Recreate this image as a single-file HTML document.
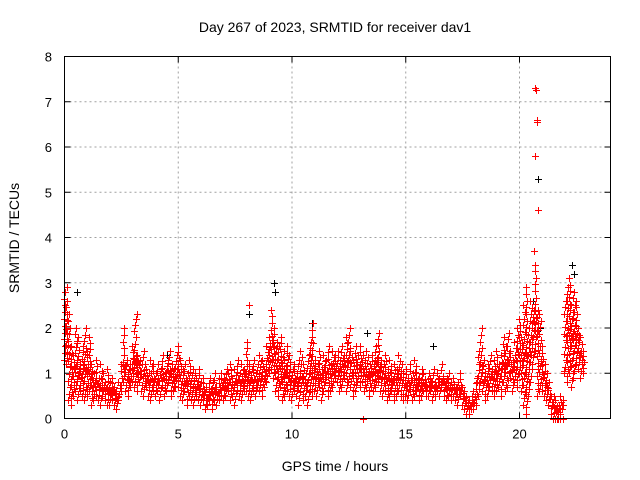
<!DOCTYPE html>
<html><head><meta charset="utf-8"><style>
body{margin:0;background:#fff}
svg{display:block;font-family:"Liberation Sans",sans-serif}
</style></head><body>
<svg id="chart" width="640" height="480" viewBox="0 0 640 480">
<text x="335" y="32" font-size="14" text-anchor="middle">Day 267 of 2023, SRMTID for receiver dav1</text>
<text transform="translate(19,238) rotate(-90)" font-size="14" text-anchor="middle">SRMTID / TECUs</text>
<text x="335" y="471" font-size="14" text-anchor="middle">GPS time / hours</text>
<g id="grid"></g>
<g id="ticks"></g>
<g id="black"></g>
<g id="red"></g>
<rect x="64.5" y="56.5" width="546" height="362" fill="none" stroke="#000" stroke-width="1"/>
</svg>
<script>
const xTicks=[0,5,10,15,20];
const yTicks=[0,1,2,3,4,5,6,7,8];
const step=0.1;
const hiVals=[2.8,2.6,2.3,1.6,1.4,2.0,1.8,1.2,1.6,2.0,
1.5,1.8,1.2,1.0,1.3,0.9,1.2,1.0,0.8,1.1,
0.8,0.9,0.7,0.6,0.8,1.2,2.0,1.3,1.1,1.2,
1.6,2.2,1.4,1.3,1.2,1.5,1.1,1.0,1.3,1.2,
1.0,1.2,1.1,1.4,1.0,1.3,1.5,1.2,1.1,1.4,
1.6,1.3,1.1,1.2,1.0,1.3,1.1,1.0,0.9,1.1,
0.8,0.9,0.7,0.6,0.9,0.8,1.0,0.7,0.9,1.0,
0.9,1.1,1.0,1.2,0.9,1.1,1.3,1.0,1.2,1.1,
1.7,1.2,1.1,1.3,1.0,1.2,1.4,1.3,1.1,1.6,
1.8,2.4,2.0,1.7,1.6,1.8,1.5,1.3,1.6,1.4,
1.1,1.2,1.0,1.3,1.5,1.2,1.0,1.4,1.7,2.1,
1.3,1.2,1.5,1.1,1.4,1.3,1.6,1.2,1.5,1.4,
1.5,1.3,1.6,1.4,1.8,2.0,1.5,1.3,1.6,1.4,
1.6,1.4,1.3,1.5,1.2,1.4,1.3,1.6,1.9,1.3,
1.2,1.4,1.1,1.3,1.0,1.2,1.1,1.4,1.2,1.0,
1.1,0.9,1.2,1.0,1.3,1.0,0.9,1.1,1.0,0.8,
1.0,0.9,1.1,0.8,1.0,0.9,1.2,0.8,0.9,1.0,
0.8,0.9,0.7,0.8,1.0,0.7,0.6,0.5,0.4,0.5,
0.6,0.9,1.5,2.0,1.3,1.0,1.2,1.4,1.1,1.3,
1.5,1.2,1.4,1.8,1.6,1.9,1.5,1.3,1.7,2.0,
2.2,1.8,2.5,2.9,2.0,2.6,2.4,3.4,2.4,2.3,
1.6,1.2,1.0,0.8,0.5,0.5,0.4,0.3,0.5,0.4,
2.6,2.9,3.1,2.5,2.8,2.6,2.0,1.8,1.5];
const loVals=[1.3,1.2,0.4,0.3,0.5,0.6,0.4,0.6,0.5,0.4,
0.5,0.6,0.3,0.4,0.5,0.4,0.3,0.5,0.4,0.3,
0.3,0.4,0.3,0.2,0.4,0.6,0.8,0.6,0.5,0.7,
0.8,0.7,0.6,0.8,0.6,0.5,0.7,0.5,0.4,0.6,
0.5,0.6,0.4,0.7,0.5,0.6,0.8,0.5,0.6,0.7,
0.7,0.5,0.4,0.6,0.3,0.5,0.4,0.3,0.5,0.4,
0.3,0.4,0.2,0.3,0.4,0.2,0.4,0.3,0.4,0.5,
0.4,0.5,0.6,0.4,0.5,0.3,0.6,0.5,0.4,0.6,
0.6,0.5,0.4,0.6,0.5,0.7,0.6,0.5,0.7,0.8,
1.0,1.1,0.9,0.6,0.5,0.7,0.4,0.5,0.6,0.5,
0.4,0.6,0.5,0.3,0.6,0.4,0.5,0.3,0.6,0.5,
0.6,0.5,0.7,0.4,0.6,0.8,0.5,0.6,0.7,0.9,
0.8,0.6,0.7,0.9,0.6,0.8,0.7,0.5,0.6,0.8,
0.7,0.8,0.6,0.7,0.5,0.7,0.6,0.7,0.8,0.6,
0.5,0.6,0.4,0.5,0.6,0.4,0.5,0.6,0.5,0.4,
0.5,0.4,0.6,0.4,0.5,0.6,0.4,0.5,0.6,0.5,
0.5,0.6,0.4,0.5,0.6,0.5,0.7,0.5,0.4,0.5,
0.4,0.5,0.4,0.3,0.5,0.3,0.2,0.1,0.1,0.2,
0.2,0.3,0.5,0.8,0.6,0.4,0.5,0.7,0.6,0.5,
0.6,0.7,0.5,0.8,0.6,0.7,0.9,0.6,0.8,0.7,
1.0,0.6,0.3,0.1,0.5,0.8,1.2,1.5,0.5,0.6,
0.6,0.5,0.4,0.3,0.1,0.0,0.0,0.0,0.1,0.2,
1.0,0.8,1.0,0.7,0.9,1.2,1.1,0.9,1.0];
const extraT=[20.7,20.72,20.75,20.78,20.7,20.8,20.65,13.1,21.7,21.8,21.9,0.1,3.2,8.1];
const extraV=[7.3,7.25,6.6,6.55,5.8,4.6,3.7,0.0,0.0,0.0,0.0,2.9,2.3,2.5];
const blackT=[0.1,0.55,9.2,9.25,20.8,20.6,22.3,22.4,8.1,13.3,4.5,16.2,10.9,20.9,2.6];
const blackV=[2.9,2.8,3.0,2.8,5.3,2.6,3.4,3.2,2.3,1.9,1.4,1.6,2.1,2.0,1.1];

const X0=64.5,X1=610.5,Y0=418.5,Y1=56.5;
const sx=t=>X0+t/24*(X1-X0);
const sy=v=>Y0-v/8*(Y0-Y1);
const NS='http://www.w3.org/2000/svg';
function mk(tag,attrs,parent){const e=document.createElementNS(NS,tag);for(const k in attrs)e.setAttribute(k,attrs[k]);parent.appendChild(e);return e;}
const grid=document.getElementById('grid'),ticks=document.getElementById('ticks');
xTicks.forEach(t=>{const x=sx(t);
 if(t>0){const l=mk('line',{x1:x,y1:Y0,x2:x,y2:Y1,stroke:'#a0a0a0','stroke-dasharray':'2,3'},grid);}
 mk('line',{x1:x,y1:Y0,x2:x,y2:Y0-6,stroke:'#000'},ticks);mk('line',{x1:x,y1:Y1,x2:x,y2:Y1+6,stroke:'#000'},ticks);
 const tx=mk('text',{x:x,y:Y0+20,'font-size':13,'text-anchor':'middle'},ticks);tx.textContent=t;
 });
yTicks.forEach(v=>{const y=sy(v);
 if(v>0&&v<8){const l=mk('line',{x1:X0,y1:y,x2:X1,y2:y,stroke:'#a0a0a0','stroke-dasharray':'2,3'},grid);}
 mk('line',{x1:X0,y1:y,x2:X0+6,y2:y,stroke:'#000'},ticks);mk('line',{x1:X1,y1:y,x2:X1-6,y2:y,stroke:'#000'},ticks);
 const tx=mk('text',{x:52,y:y+5,'font-size':13,'text-anchor':'end'},ticks);tx.textContent=v;
 });
function plus(g,t,v,c){const x=Math.round(sx(t))+0.5,y=Math.round(sy(v))+0.5;
 const p=mk('path',{d:`M${x-3.5},${y}H${x+3.5}M${x},${y-3.5}V${y+3.5}`,stroke:c,'stroke-width':1,fill:'none'},g);
 
 }
const bg=document.getElementById('black'),rg=document.getElementById('red');
blackT.forEach((t,i)=>plus(bg,t,blackV[i],'#000'));
hiVals.forEach((h,i)=>{const t=i*step,lo=loVals[i];
 const n=Math.max(2,Math.ceil((h-lo)/0.15));
 for(let k=0;k<=n;k++){const v=lo+(h-lo)*k/n;plus(rg,t+((k%3)-1)*0.03,v,'#f00');}
 if(i+1<hiVals.length){plus(rg,t+step/2,(h+hiVals[i+1]+lo+loVals[i+1])/4,'#f00');}
});
extraT.forEach((t,i)=>plus(rg,t,extraV[i],'#f00'));
</script>
</body></html>
